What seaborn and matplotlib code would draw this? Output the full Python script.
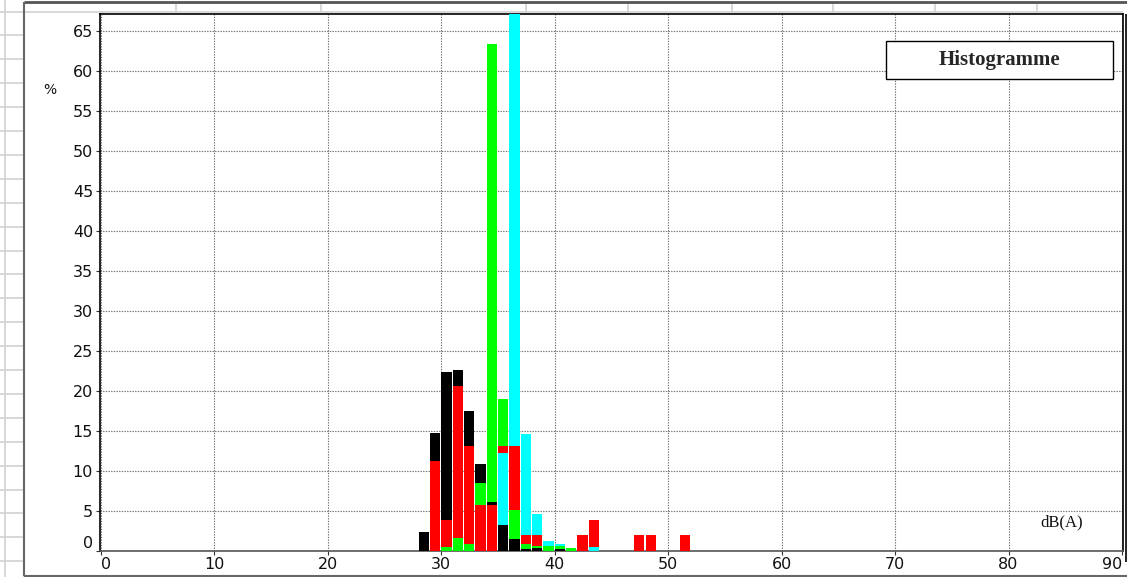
import numpy as np
import pandas as pd
import matplotlib
matplotlib.use("Agg")
import matplotlib.pyplot as plt
from matplotlib.lines import Line2D
from matplotlib.patches import Rectangle
import seaborn as sns

# Sound level classes (dB(A), lower edge of each 1 dB class)
levels = list(range(28, 52))

# Share of time (%) per class for each measurement series
black = [2.3, 14.7, 22.3, 22.6, 17.4, 10.8, 6.1, 3.2, 1.4, 0.2, 0.3, 0.0,
         0.2, 0.0, 0.0, 0.0, 0.0, 0.0, 0.0, 0.0, 0.0, 0.0, 0.0, 0.0]
red = [0.0, 11.2, 3.8, 20.6, 13.1, 5.7, 5.7, 13.1, 13.1, 1.9, 1.9, 0.0,
       0.0, 0.0, 2.0, 3.8, 0.0, 0.0, 0.0, 2.0, 2.0, 0.0, 0.0, 2.0]
green = [0.0, 0.0, 0.45, 1.55, 0.8, 8.5, 63.4, 18.9, 5.1, 0.8, 0.55, 0.55,
         0.6, 0.35, 0.0, 0.0, 0.0, 0.0, 0.0, 0.0, 0.0, 0.0, 0.0, 0.0]
cyan = [0.0, 0.0, 0.0, 0.0, 0.0, 0.0, 0.0, 12.2, 68.5, 14.6, 4.6, 1.2,
        0.85, 0.0, 0.0, 0.5, 0.0, 0.0, 0.0, 0.0, 0.0, 0.0, 0.0, 0.0]

series_names = ["noir", "rouge", "vert", "cyan"]
series_colors = {"noir": "#000000", "rouge": "#ff0000",
                 "vert": "#00ff00", "cyan": "#00ffff"}

x_ticks = list(range(0, 91, 10))
y_ticks = list(range(0, 66, 5))

# Long table; within each class the bars are overlaid tallest first
rows = []
for name, vals in zip(series_names, [black, red, green, cyan]):
    for lv, v in zip(levels, vals):
        if v > 0:
            rows.append({"level": lv, "series": name, "pct": v})
df = pd.DataFrame(rows)
df["rank"] = df.groupby("level")["pct"].rank(method="first", ascending=False).astype(int)

W, H = 1127, 577
fig = plt.figure(figsize=(W / 100, H / 100), dpi=100)
fig.patch.set_facecolor("white")


def fx(px):
    return px / W


def fy(py):
    return 1 - py / H


ax_left, ax_right, ax_top, ax_bottom = 100, 1123, 13.5, 550.5
ax = fig.add_axes([fx(ax_left), fy(ax_bottom), fx(ax_right - ax_left),
                   (ax_bottom - ax_top) / H])
sns.set_style("white")
plt.rcParams["font.family"] = ["DejaVu Sans"]

for r in sorted(df["rank"].unique()):
    sub = df[df["rank"] == r]
    sns.histplot(data=sub, x="level", weights="pct", hue="series",
                 hue_order=series_names, palette=series_colors,
                 binwidth=1.0, binrange=(27.95, 52.95),
                 multiple="layer", element="bars", stat="count", alpha=1.0,
                 shrink=0.9, edgecolor="none", linewidth=0, legend=False,
                 ax=ax, zorder=3 + r)

ax.set_xlim(-0.09, 90.09)
ax.set_ylim(0, 67.2)
ax.set_xticks(x_ticks)
ax.set_yticks(y_ticks)
ax.set_xlabel("")
ax.set_ylabel("")
ax.grid(True, color="#6e6e6e", linestyle=(0, (1.2, 1.2)), linewidth=0.8)
ax.set_axisbelow(True)
ax.tick_params(axis="both", which="major", direction="out", length=3,
               width=0.8, color="#333333", labelsize=11.5, pad=2,
               labelcolor="#111111")
xl = ax.get_xticklabels()
xl[0].set_horizontalalignment("left")
xl[-1].set_horizontalalignment("right")
yl = ax.get_yticklabels()
yl[0].set_verticalalignment("bottom")

for side in ["left", "top", "right"]:
    ax.spines[side].set_color("black")
    ax.spines[side].set_linewidth(1.2)
ax.spines["bottom"].set_color("#555555")
ax.spines["bottom"].set_linewidth(1.2)

# Axis annotations
fig.text(fx(50), fy(90), "%", fontsize=10, ha="center", va="center",
         family="DejaVu Sans", color="#111111")
fig.text(fx(1061.5), fy(522), "dB(A)", fontsize=12, ha="center",
         va="center", family="Liberation Serif", color="#111111")

# Title box
fig.add_artist(Rectangle((fx(886), fy(79)), fx(1113 - 886), (79 - 41) / H,
                         transform=fig.transFigure, facecolor="white",
                         edgecolor="black", linewidth=1.0, zorder=5))
fig.text(fx(999.5), fy(60), "Histogramme", fontsize=15, fontweight="bold",
         ha="center", va="center", family="Liberation Serif", zorder=6)


# Surrounding sheet grid and chart frame
def fline(x0, y0, x1, y1, color, lw, z=0.5):
    fig.add_artist(Line2D([fx(x0), fx(x1)], [fy(y0), fy(y1)],
                          transform=fig.transFigure, color=color,
                          linewidth=lw, zorder=z, solid_capstyle="butt"))


light = "#d4d4d4"
for k in range(0, 25):
    y = 11.5 + 23.9 * k
    if y < H:
        fline(0, y, 23, y, light, 1.3)
fline(4.5, 0, 4.5, H, light, 1.3)
cols = [176, 321, 526, 628, 732, 833, 935, 1037]
for c in cols:
    fline(c, 2, c, 12, light, 1.3)
    fline(c, 576, c, H, light, 1.3)
fline(24, 576, 24, H, light, 1.3)
fline(23.5, 11.5, ax_right, 11.5, light, 1.3)
fline(23.5, 1.5, W, 1.5, "#555555", 2.0)
fline(23.5, 1.5, 23.5, 575.5, "#666666", 1.5)
fline(23.5, 575.5, W, 575.5, "#666666", 1.5)
fline(1126, ax_top, 1126, 562, "black", 1.2)

fig.savefig("out.png", dpi=100, facecolor="white")
